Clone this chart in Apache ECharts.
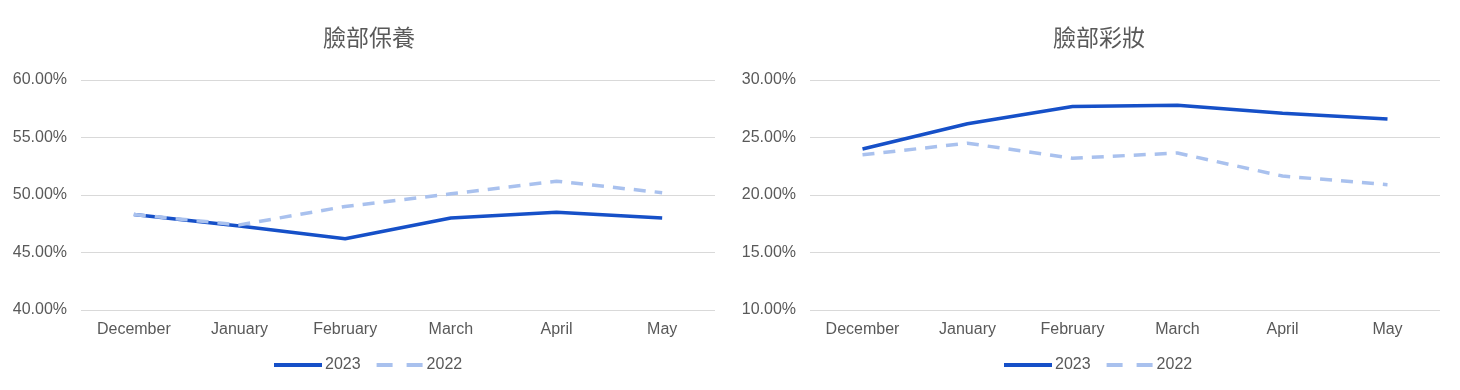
<!DOCTYPE html>
<html><head><meta charset="utf-8">
<script src="https://cdn.jsdelivr.net/npm/echarts@6/dist/echarts.min.js"></script>
<style>html,body{margin:0;padding:0;background:#fff}#c{width:1460px;height:390px}</style>
</head><body><div id="c"></div>
<script>
const categories = ['December','January','February','March','April','May'];
const titles = ['臉部保養','臉部彩妝'];
const seriesNames = ['2023','2022'];
const skincare2023 = [48.3, 47.3, 46.2, 48.0, 48.5, 48.0];
const skincare2022 = [48.3, 47.4, 49.0, 50.1, 51.2, 50.2];
const makeup2023 = [24.0, 26.2, 27.7, 27.8, 27.1, 26.6];
const makeup2022 = [23.5, 24.5, 23.2, 23.65, 21.65, 20.9];
const leftTicks = {min: 40, max: 60, interval: 5};
const rightTicks = {min: 10, max: 30, interval: 5};

const txt = '#595959';
const font = "'Liberation Sans', Arial, sans-serif";
const c2023 = '#1650C8', c2022 = '#A9C1EE';
const grids = [{left: 81, width: 634, top: 80, height: 230}, {left: 810, width: 630, top: 80, height: 230}];
const ticks = [leftTicks, rightTicks];
const data = [[skincare2023, skincare2022], [makeup2023, makeup2022]];
const centers = [364, 1094];
const legendCenters = [367, 1097];

const chart = echarts.init(document.getElementById('c'));
const option = {
  animation: false,
  textStyle: {fontFamily: font},
  title: titles.map((t, i) => ({text: t, left: centers[i], top: 21, textAlign: 'center',
    textStyle: {fontFamily: "'Noto Sans CJK TC', sans-serif", fontSize: 23, fontWeight: 'normal', color: txt}})),
  grid: grids,
  xAxis: grids.map((g, i) => ({type: 'category', gridIndex: i, data: categories, boundaryGap: true,
    axisLine: {show: false}, axisTick: {show: false},
    axisLabel: {color: txt, fontSize: 16, margin: 12, fontFamily: font}})),
  yAxis: grids.map((g, i) => ({type: 'value', gridIndex: i, min: ticks[i].min, max: ticks[i].max, interval: ticks[i].interval,
    axisLine: {show: false}, axisTick: {show: false},
    splitLine: {lineStyle: {color: '#D9D9D9', width: 1}},
    axisLabel: {color: txt, fontSize: 16, margin: 14, fontFamily: font, formatter: v => v.toFixed(2) + '%'}})),
  series: []
};
[0, 1].forEach(i => {
  option.series.push({name: seriesNames[0] + (i ? ' ' : ''), type: 'line', xAxisIndex: i, yAxisIndex: i, data: data[i][0],
    symbol: 'none', z: 2, lineStyle: {color: c2023, width: 3.5}, itemStyle: {color: c2023}});
  option.series.push({name: seriesNames[1] + (i ? ' ' : ''), type: 'line', xAxisIndex: i, yAxisIndex: i, data: data[i][1],
    symbol: 'none', z: 3, lineStyle: {color: c2022, width: 3.5, type: [12, 9]}, itemStyle: {color: c2022}});
});
option.legend = [0, 1].map(i => ({
  data: [
    {name: seriesNames[0] + (i ? ' ' : ''), icon: 'path://M0,0H48V4H0Z'},
    {name: seriesNames[1] + (i ? ' ' : ''), icon: 'path://M0,0H16V4H0Z M30,0H46V4H30Z'}
  ],
  left: legendCenters[i] - 98, top: 352, itemWidth: 48, itemHeight: 4, itemGap: 16,
  formatter: n => n.trim(), textStyle: {color: txt, fontSize: 16, fontFamily: font, padding: [0, 0, 0, -2]}}));
chart.setOption(option);
</script></body></html>
